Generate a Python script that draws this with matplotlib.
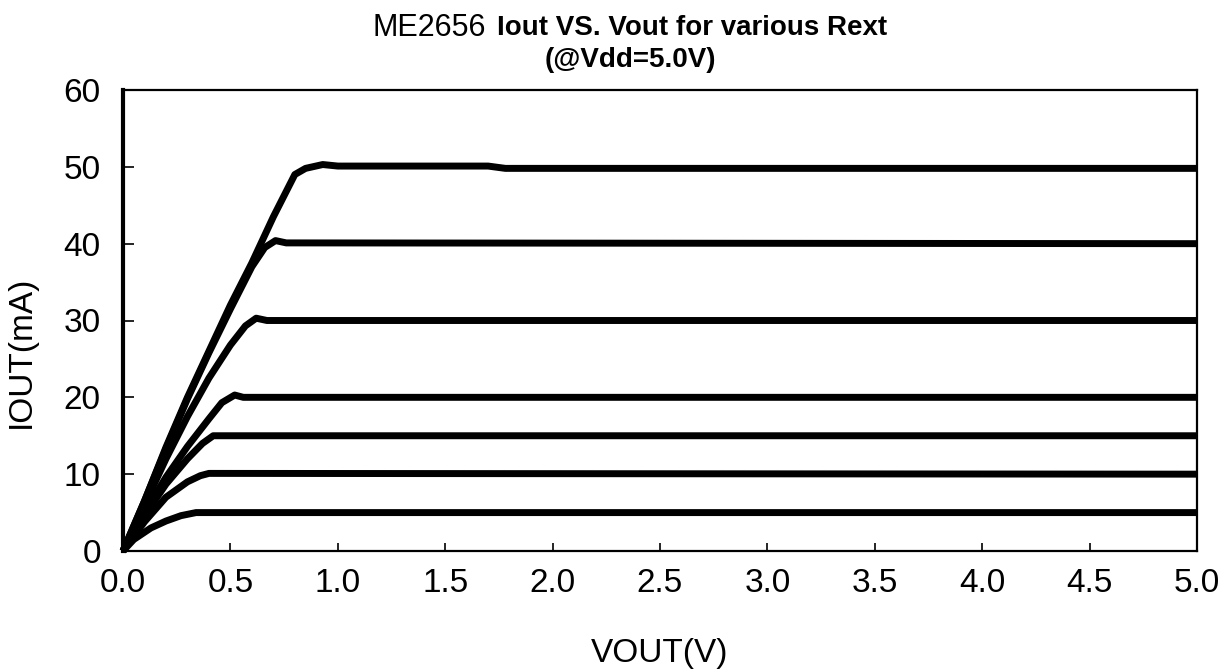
import numpy as np
import matplotlib.pyplot as plt

plt.rcParams['font.family'] = ['Liberation Sans', 'DejaVu Sans']

# curves: VOUT (V) and IOUT (mA) for each Rext setting
v_50 = [0, 0.1, 0.2, 0.3, 0.4, 0.5, 0.6, 0.7, 0.8, 0.85, 0.93, 1.0, 1.7, 1.78, 5.0]
i_50 = [0, 6.5, 13.5, 20, 26, 32, 37.5, 43.5, 49, 49.8, 50.3, 50.1, 50.1, 49.8, 49.8]

v_40 = [0, 0.1, 0.2, 0.3, 0.4, 0.5, 0.6, 0.66, 0.71, 0.76, 5.0]
i_40 = [0, 6.5, 13.3, 19.8, 25.8, 31.5, 37, 39.5, 40.4, 40.1, 40.0]

v_30 = [0, 0.1, 0.2, 0.3, 0.4, 0.5, 0.57, 0.62, 0.67, 5.0]
i_30 = [0, 6.0, 12, 17.5, 22.5, 26.8, 29.3, 30.3, 30.0, 30.0]

v_20 = [0, 0.1, 0.2, 0.3, 0.4, 0.46, 0.52, 0.56, 5.0]
i_20 = [0, 5.0, 9.6, 13.6, 17.2, 19.3, 20.3, 20.0, 20.0]

v_15 = [0, 0.1, 0.2, 0.3, 0.37, 0.42, 5.0]
i_15 = [0, 4.6, 8.7, 12.0, 14.0, 15.0, 15.0]

v_10 = [0, 0.1, 0.2, 0.3, 0.36, 0.4, 5.0]
i_10 = [0, 3.8, 7.0, 9.0, 9.8, 10.1, 10.0]

v_5 = [0, 0.05, 0.13, 0.2, 0.27, 0.34, 5.0]
i_5 = [0, 1.5, 3.0, 3.9, 4.6, 5.0, 5.0]

x_ticks = [0.0, 0.5, 1.0, 1.5, 2.0, 2.5, 3.0, 3.5, 4.0, 4.5, 5.0]
y_ticks = [0, 10, 20, 30, 40, 50, 60]

fig = plt.figure(figsize=(12.32, 6.70), dpi=100)
ax = fig.add_axes([123 / 1232, 119 / 670, 1074 / 1232, 461 / 670])

for v, i in [(v_50, i_50), (v_40, i_40), (v_30, i_30), (v_20, i_20),
             (v_15, i_15), (v_10, i_10), (v_5, i_5)]:
    ax.plot(v, i, color='black', lw=5, solid_joinstyle='round',
            solid_capstyle='butt', clip_on=False)

ax.set_xlim(0, 5)
ax.set_ylim(0, 60)
ax.set_xticks(x_ticks)
ax.set_xticklabels(['%.1f' % t for t in x_ticks])
ax.set_yticks(y_ticks)
ax.set_yticklabels([str(t) for t in y_ticks])
ax.tick_params(axis='both', direction='in', labelsize=24, width=1.2)
ax.tick_params(axis='y', length=8, pad=16)
ax.tick_params(axis='x', length=6, pad=12)

ax.spines['left'].set_linewidth(3)
for s in ['bottom', 'top', 'right']:
    ax.spines[s].set_linewidth(1.6)

ax.set_xlabel('VOUT(V)', fontsize=24, labelpad=28)
ax.set_ylabel('IOUT(mA)', fontsize=24)
ax.yaxis.set_label_coords(-86 / 1074, 0.432)

fig.text(429 / 1232, 1 - 28 / 670, 'ME2656', fontsize=22, ha='center', va='center')
fig.text(692 / 1232, 1 - 28 / 670, 'Iout VS. Vout for various Rext', fontsize=20,
         fontweight='bold', ha='center', va='center')
fig.text(630 / 1232, 1 - 60 / 670, '(@Vdd=5.0V)', fontsize=20,
         fontweight='bold', ha='center', va='center')

fig.savefig('out.png', dpi=100)
